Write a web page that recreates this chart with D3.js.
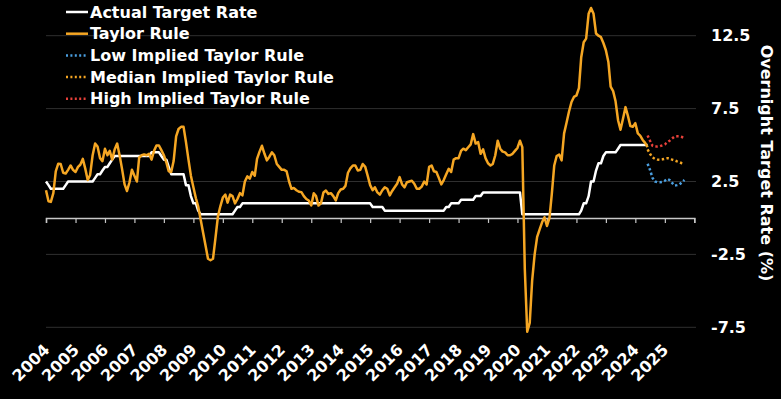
<!DOCTYPE html>
<html>
<head>
<meta charset="utf-8">
<script src="https://cdn.jsdelivr.net/npm/d3@7"></script>
<style>
  html, body { margin: 0; padding: 0; background: #000; }
  svg { display: block; }
  text { font-family: "DejaVu Sans", Verdana, sans-serif; font-weight: bold; fill: #fff; }
</style>
</head>
<body>
<div id="chart"></div>
<script>
// monthly values, Jan 2004 .. Jun 2024
const actualRate = [
  2.5, 2.25, 2.0, 2.0, 2.0, 2.0, 2.0, 2.0, 2.25, 2.5, 2.5, 2.5,          // 2004
  2.5, 2.5, 2.5, 2.5, 2.5, 2.5, 2.5, 2.5, 2.75, 3.0, 3.0, 3.25,          // 2005
  3.5, 3.5, 3.75, 4.0, 4.25, 4.25, 4.25, 4.25, 4.25, 4.25, 4.25, 4.25,  // 2006
  4.25, 4.25, 4.25, 4.25, 4.25, 4.25, 4.25, 4.5, 4.5, 4.5, 4.5, 4.25,   // 2007
  4.0, 4.0, 3.5, 3.0, 3.0, 3.0, 3.0, 3.0, 3.0, 2.25, 2.25, 1.5,         // 2008
  1.0, 1.0, 0.5, 0.25, 0.25, 0.25, 0.25, 0.25, 0.25, 0.25, 0.25, 0.25,  // 2009
  0.25, 0.25, 0.25, 0.25, 0.25, 0.5, 0.75, 0.75, 1.0, 1.0, 1.0, 1.0,    // 2010
  1.0, 1.0, 1.0, 1.0, 1.0, 1.0, 1.0, 1.0, 1.0, 1.0, 1.0, 1.0,           // 2011
  1.0, 1.0, 1.0, 1.0, 1.0, 1.0, 1.0, 1.0, 1.0, 1.0, 1.0, 1.0,           // 2012
  1.0, 1.0, 1.0, 1.0, 1.0, 1.0, 1.0, 1.0, 1.0, 1.0, 1.0, 1.0,           // 2013
  1.0, 1.0, 1.0, 1.0, 1.0, 1.0, 1.0, 1.0, 1.0, 1.0, 1.0, 1.0,           // 2014
  1.0, 0.75, 0.75, 0.75, 0.75, 0.75, 0.5, 0.5, 0.5, 0.5, 0.5, 0.5,      // 2015
  0.5, 0.5, 0.5, 0.5, 0.5, 0.5, 0.5, 0.5, 0.5, 0.5, 0.5, 0.5,           // 2016
  0.5, 0.5, 0.5, 0.5, 0.5, 0.5, 0.5, 0.75, 0.75, 1.0, 1.0, 1.0,         // 2017
  1.0, 1.25, 1.25, 1.25, 1.25, 1.25, 1.25, 1.5, 1.5, 1.5, 1.75, 1.75,   // 2018
  1.75, 1.75, 1.75, 1.75, 1.75, 1.75, 1.75, 1.75, 1.75, 1.75, 1.75, 1.75, // 2019
  1.75, 1.75, 0.25, 0.25, 0.25, 0.25, 0.25, 0.25, 0.25, 0.25, 0.25, 0.25, // 2020
  0.25, 0.25, 0.25, 0.25, 0.25, 0.25, 0.25, 0.25, 0.25, 0.25, 0.25, 0.25, // 2021
  0.25, 0.25, 0.5, 1.0, 1.0, 1.5, 2.5, 2.5, 3.25, 3.75, 3.75, 4.25,     // 2022
  4.5, 4.5, 4.5, 4.5, 4.5, 4.75, 5.0, 5.0, 5.0, 5.0, 5.0, 5.0,          // 2023
  5.0, 5.0, 5.0, 5.0, 5.0, 5.0                                          // 2024
];

const taylorRule = [
  1.9, 1.15, 1.1, 1.7, 3.2, 3.72, 3.7, 3.1, 3.05, 3.3, 3.6, 3.3,        // 2004
  3.15, 3.5, 3.65, 4.05, 3.4, 2.6, 2.95, 4.3, 5.1, 4.9, 4.1, 3.9,       // 2005
  4.74, 4.3, 4.6, 4.0, 4.7, 5.1, 4.3, 3.35, 2.3, 1.85, 2.45, 3.3,       // 2006
  2.9, 2.5, 4.15, 4.3, 4.35, 4.3, 4.4, 4.0, 4.6, 4.97, 4.97, 4.65,      // 2007
  4.3, 3.8, 3.2, 3.15, 3.9, 5.6, 6.1, 6.25, 6.25, 5.2, 4.0, 2.9,        // 2008
  2.1, 1.35, 0.8, -0.1, -1.0, -1.9, -2.8, -2.9, -2.8, -1.4, 0.1, 0.8,   // 2009
  1.4, 1.6, 1.05, 1.6, 1.5, 1.0, 1.3, 1.7, 1.55, 2.5, 2.85, 2.7,        // 2010
  3.15, 2.9, 4.05, 4.55, 4.95, 4.4, 3.95, 4.2, 4.5, 4.3, 3.7, 3.5,      // 2011
  3.3, 3.3, 3.2, 2.5, 2.0, 2.05, 1.9, 1.8, 1.77, 1.5, 1.3, 1.2,         // 2012
  0.86, 1.7, 1.5, 0.85, 1.0, 1.75, 1.88, 1.65, 1.7, 1.5, 1.2, 1.7,      // 2013
  1.95, 2.0, 2.2, 3.1, 3.4, 3.6, 3.6, 3.25, 3.3, 3.7, 3.5, 2.9,         // 2014
  2.25, 1.9, 2.1, 1.75, 1.6, 1.9, 2.1, 2.0, 1.55, 1.85, 2.1, 2.35,      // 2015
  2.8, 2.3, 2.1, 2.45, 2.5, 2.55, 2.35, 2.0, 2.0, 2.15, 2.5, 2.3,       // 2016
  3.5, 3.6, 3.2, 3.15, 2.75, 2.3, 2.6, 3.0, 3.37, 3.15, 4.0, 4.1,       // 2017
  4.1, 4.6, 4.75, 4.65, 4.85, 5.05, 5.75, 5.1, 5.2, 4.4, 4.7, 4.1,      // 2018
  3.75, 3.6, 3.7, 4.3, 5.3, 4.75, 4.55, 4.5, 4.3, 4.3, 4.4, 4.6,        // 2019
  4.8, 5.3, 4.86, -3.5, -7.8, -7.2, -4.3, -2.5, -1.3, -0.8, -0.3, 0.05, // 2020
  -0.55, 0.0, 1.6, 3.6, 4.25, 4.35, 3.95, 5.8, 6.55, 7.3, 7.95, 8.3,    // 2021
  8.4, 8.9, 11.0, 12.05, 12.3, 14.0, 14.4, 14.0, 12.65, 12.5, 12.4, 12.0, // 2022
  11.5, 10.7, 9.0, 8.7, 8.0, 6.7, 6.05, 6.8, 7.6, 7.0, 6.3, 6.25,       // 2023
  6.5, 5.8, 5.65, 5.35, 5.15, 4.85                                      // 2024
];

// implied paths, Jun 2024 .. Sep 2025
const lowImplied =    [3.72, 3.3, 2.75, 2.5, 2.45, 2.45, 2.47, 2.55, 2.68, 2.6, 2.4, 2.22, 2.25, 2.3, 2.45, 2.6];
const medianImplied = [4.7, 4.4, 4.15, 4.05, 4.0, 3.99, 4.02, 4.06, 4.1, 4.08, 4.0, 3.95, 3.88, 3.82, 3.75, 3.7];
const highImplied =   [5.66, 5.3, 4.95, 4.9, 4.9, 4.92, 4.98, 5.05, 5.2, 5.3, 5.45, 5.58, 5.6, 5.6, 5.55, 5.48];

const yTicks = [12.5, 7.5, 2.5, -2.5, -7.5];
const yearLabels = d3.range(2004, 2026);

const width = 781;
const height = 399;

const monthsFrom = (year, month, n) => d3.range(n).map(i => new Date(year, month + i, 1));
const histDates = monthsFrom(2004, 0, actualRate.length);
const fcDates = monthsFrom(2024, 5, lowImplied.length);

const x = d3.scaleTime()
  .domain([new Date(2004, 0, 1), new Date(2026, 0, 1)])
  .range([46, 694.3]);
const y = d3.scaleLinear()
  .domain([-7.5, 12.5])
  .range([327.3, 35.7]);

const svg = d3.select("#chart")
  .append("svg")
  .attr("width", width)
  .attr("height", height);

svg.append("rect").attr("width", width).attr("height", height).attr("fill", "#000");

// gridlines
svg.append("g")
  .selectAll("line")
  .data(yTicks)
  .join("line")
  .attr("x1", 46)
  .attr("x2", 696)
  .attr("y1", d => y(d))
  .attr("y2", d => y(d))
  .attr("stroke", "#2f2f2f")
  .attr("stroke-width", 1);

// right axis labels
svg.append("g")
  .selectAll("text")
  .data(yTicks)
  .join("text")
  .attr("x", 711)
  .attr("y", d => y(d) + 5.5)
  .attr("font-size", 16)
  .text(d => d);

svg.append("text")
  .attr("transform", `translate(760.5, 163) rotate(90)`)
  .attr("text-anchor", "middle")
  .attr("font-size", 16)
  .text("Overnight Target Rate (%)");

// zero axis with year ticks
const xAxis = d3.axisBottom(x)
  .ticks(d3.timeYear.every(1))
  .tickSize(5)
  .tickFormat("");
const axisG = svg.append("g")
  .attr("transform", `translate(0,${y(0)})`)
  .call(xAxis);
axisG.select(".domain").attr("stroke", "#c8c8c8").attr("stroke-width", 1.5);
axisG.selectAll(".tick line").attr("stroke", "#c8c8c8").attr("stroke-width", 1.2);

// year labels along the bottom
svg.append("g")
  .selectAll("text")
  .data(yearLabels)
  .join("text")
  .attr("transform", d => `translate(${x(new Date(d, 0, 1)) + 4.5}, 351) rotate(-45)`)
  .attr("text-anchor", "end")
  .attr("font-size", 16)
  .text(d => d);

// lines
const line = d3.line()
  .x(d => x(d[0]))
  .y(d => y(d[1]));

const pair = (dates, vals) => dates.map((d, i) => [d, vals[i]]);

svg.append("path")
  .datum(pair(histDates, actualRate))
  .attr("d", line)
  .attr("fill", "none")
  .attr("stroke", "#ffffff")
  .attr("stroke-width", 2.5)
  .attr("stroke-linejoin", "round");

svg.append("path")
  .datum(pair(histDates, taylorRule))
  .attr("d", line)
  .attr("fill", "none")
  .attr("stroke", "#f5a623")
  .attr("stroke-width", 2.5)
  .attr("stroke-linejoin", "round");

const dotted = [
  { vals: highImplied, color: "#e8413a" },
  { vals: medianImplied, color: "#f5a623" },
  { vals: lowImplied, color: "#4a9fe0" }
];
dotted.forEach(s => {
  svg.append("path")
    .datum(pair(fcDates, s.vals))
    .attr("d", line)
    .attr("fill", "none")
    .attr("stroke", s.color)
    .attr("stroke-width", 2.5)
    .attr("stroke-dasharray", "2.4 2.4");
});

// legend
const legendItems = [
  { label: "Actual Target Rate", color: "#ffffff", dash: null },
  { label: "Taylor Rule", color: "#f5a623", dash: null },
  { label: "Low Implied Taylor Rule", color: "#4a9fe0", dash: "2 2.4" },
  { label: "Median Implied Taylor Rule", color: "#f5a623", dash: "2 2.4" },
  { label: "High Implied Taylor Rule", color: "#e8413a", dash: "2 2.4" }
];
const legend = svg.append("g");
legendItems.forEach((item, i) => {
  const cy = 12 + i * 21.7;
  legend.append("line")
    .attr("x1", 66).attr("x2", 88)
    .attr("y1", cy).attr("y2", cy)
    .attr("stroke", item.color)
    .attr("stroke-width", 2.5)
    .attr("stroke-dasharray", item.dash);
  legend.append("text")
    .attr("x", 90)
    .attr("y", cy + 5.5)
    .attr("font-size", 16)
    .text(item.label);
});
</script>
</body>
</html>
